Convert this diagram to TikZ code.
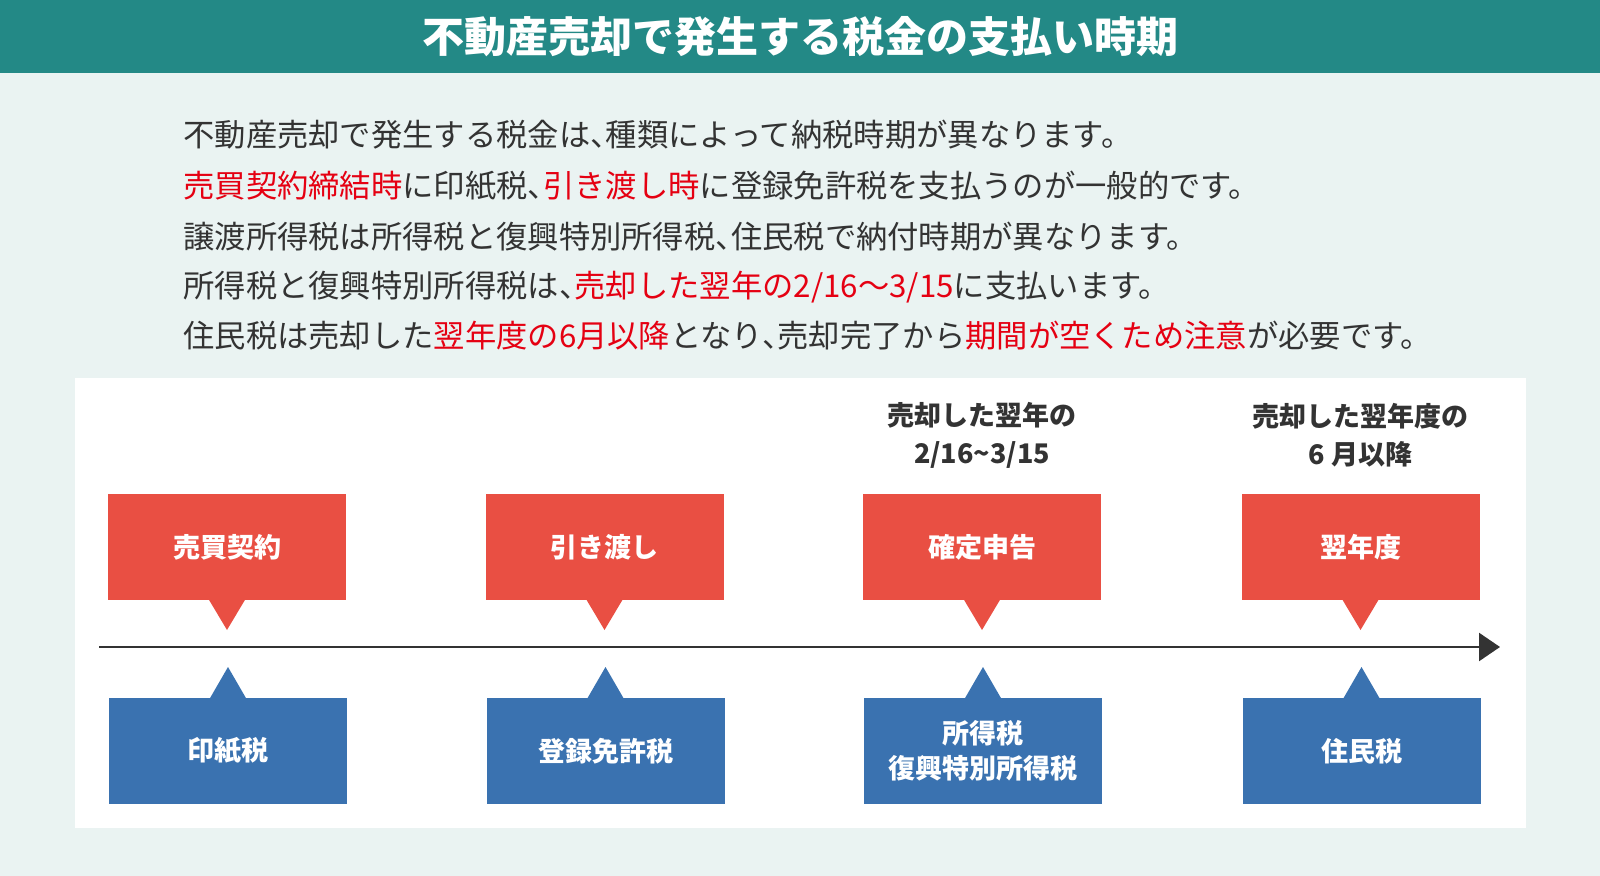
\documentclass[tikz,border=0pt]{standalone}
\usepackage{fontspec}
\setmainfont{Noto Sans CJK JP}
\usetikzlibrary{arrows.meta}

\definecolor{bgmint}{HTML}{EAF3F2}
\definecolor{headteal}{HTML}{238986}
\definecolor{taxred}{HTML}{E94F43}
\definecolor{taxblue}{HTML}{3A72B0}
\definecolor{textgray}{HTML}{333333}
\definecolor{emred}{HTML}{E50012}

\newcommand{\hl}[1]{\textcolor{emred}{#1}}
\newcommand{\tou}{、\kern-.5em}

\begin{document}
\begin{tikzpicture}[x=0.5pt, y=-0.5pt,
    redbox/.style={fill=taxred, minimum width=119pt, minimum height=53pt, inner sep=0pt,
      text=white, align=center, font=\fontsize{13.5}{17.5}\selectfont\bfseries},
    bluebox/.style={redbox, fill=taxblue},
    datelabel/.style={text=textgray, align=center, font=\fontsize{13.5}{19}\selectfont\bfseries},
    bodyline/.style={anchor=base west, inner sep=0pt, text=textgray, font=\fontsize{15.65}{20}\selectfont}]
    \useasboundingbox (0,0) rectangle (1600,876);
    \fill[bgmint] (0,0) rectangle (1600,876);
    % header
    \fill[headteal] (0,0) rectangle (1600,73.5);
    \node[text=white, font=\fontsize{21}{25}\selectfont\bfseries] (title) at (800,37) {不動産売却で発生する税金の支払い時期};
    % explanation
    \node[bodyline] (l1) at (183,146.8) {不動産売却で発生する税金は\tou 種類によって納税時期が異なります。};
    \node[bodyline] (l2) at (183,197.8) {\hl{売買契約締結時}に印紙税\tou\hl{引き渡し時}に登録免許税を支払うのが一般的です。};
    \node[bodyline] (l3) at (183,248.8) {譲渡所得税は所得税と復興特別所得税\tou 住民税で納付時期が異なります。};
    \node[bodyline] (l4) at (183,297.8) {所得税と復興特別所得税は\tou\hl{売却した翌年の2/16～3/15}に支払います。};
    \node[bodyline] (l5) at (183,347.8) {住民税は売却した\hl{翌年度の6月以降}となり\tou 売却完了から\hl{期間が空くため注意}が必要です。};
    % timeline panel
    \fill[white] (74.5,378.5) rectangle (1525.5,827.5);
    \node[datelabel] (d3) at (982,435) {売却した翌年の\\2/16\textasciitilde3/15};
    \node[datelabel] (d4) at (1360.5,435) {売却した翌年度の\\6 月以降};
    \foreach \cx in {227,604.5,982,1360.5}{
        \fill[taxred] (\cx-18.5,599) -- (\cx+18.5,599) -- (\cx,630) -- cycle;
        \fill[taxblue] (\cx-17.5,699) -- (\cx+19.5,699) -- (\cx+1,667) -- cycle;
    }
    \node[redbox] (keiyaku) at (227,547) {売買契約};
    \node[redbox] (hikiwatashi) at (604.5,547) {引き渡し};
    \node[redbox] (shinkoku) at (982,547) {確定申告};
    \node[redbox] (yokunendo) at (1360.5,547) {翌年度};
    \node[bluebox] (inshi) at (228,751) {印紙税};
    \node[bluebox] (toroku) at (605.5,751) {登録免許税};
    \node[bluebox] (shotoku) at (983,751) {所得税\\復興特別所得税};
    \node[bluebox] (jumin) at (1361.5,751) {住民税};
    % axis
    \coordinate (t0) at (99,647);
    \coordinate (t1) at (1500,647);
    \draw[textgray, line width=1.25pt, -{Triangle[length=10.5pt,width=14pt]}] (t0) -- (t1);
\end{tikzpicture}
\end{document}
